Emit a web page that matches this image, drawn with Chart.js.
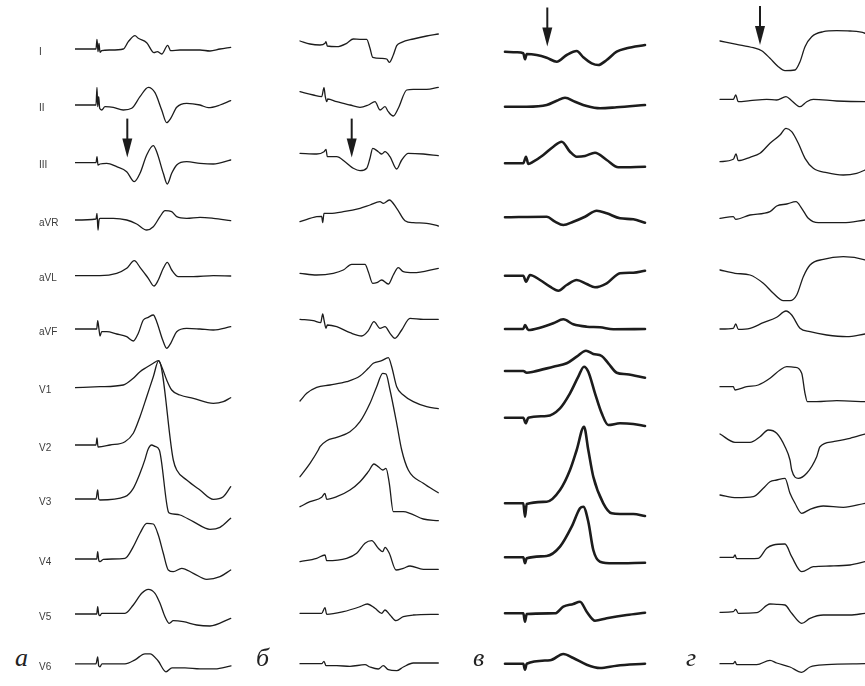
<!DOCTYPE html>
<html>
<head>
<meta charset="utf-8">
<script src="https://cdn.jsdelivr.net/npm/chart.js@4.4.1/dist/chart.umd.min.js"></script>
<style>
  body { margin: 0; background: #fff; }
  #page { position: relative; width: 865px; height: 686px; overflow: hidden; background: #fff; }
  canvas { position: absolute; top: 0; }
  .letter { position: absolute; font-family: "Liberation Serif", "DejaVu Serif", serif; font-style: italic; font-size: 26px; color: #222; line-height: 1; }
</style>
</head>
<body>
<div id="page">
  <canvas id="panelA" width="201" height="686" style="left:39px"></canvas>
  <canvas id="panelB" width="160" height="686" style="left:295px"></canvas>
  <canvas id="panelC" width="160" height="686" style="left:500px"></canvas>
  <canvas id="panelD" width="150" height="686" style="left:715px"></canvas>
  <span class="letter" style="left:15px;top:645px">а</span>
  <span class="letter" style="left:256px;top:645px">б</span>
  <span class="letter" style="left:473px;top:645px">в</span>
  <span class="letter" style="left:686px;top:645px">г</span>
</div>
<script>
// Отведения ЭКГ
const leads = ['I', 'II', 'III', 'aVR', 'aVL', 'aVF', 'V1', 'V2', 'V3', 'V4', 'V5', 'V6'];

// Кривые: пары [время, амплитуда] от изолинии каждого отведения
// панель а
const panelA = [
  [[0,0],[21,0],[22,9.7],[23,-2.7],[24,5.7],[25,-3.3],[26.7,-1.7],[35,-1],[48.3,0],[53.3,7.3],[60,13.3],[63.3,10.7],[71.7,6.3],[79,-3.7],[82.3,-2.7],[86.7,-5],[92.7,3.7],[95.7,-1.7],[105,-1],[125,-1],[135,-2],[145,0],[155.7,1.7]],
  [[0,-0.2],[21,-0.2],[22,17.5],[22.7,-1.9],[23.7,8.1],[24.7,-3.5],[26.7,-5.2],[30,-1.9],[38.3,-2.5],[48.3,-5.2],[56.7,-3.5],[65,8.1],[73.3,17.5],[80,12.1],[86.7,-5.2],[91.7,-17.9],[95.7,-13.5],[101.7,-2.5],[111.7,1.5],[125,-0.2],[133.3,-2.9],[145,-0.2],[155.7,4.1]],
  [[0,-2.1],[21,-2.1],[22,3.9],[23,-4.4],[25,-3.4],[31.7,-2.7],[41.7,-6.1],[51.7,-11.1],[59.3,-21.1],[65,-12.7],[71.7,5.6],[78.3,14.9],[81.7,8.9],[88.3,-12.7],[92.3,-23.4],[96.7,-12.7],[101.7,-4.4],[111.7,-1.1],[125,-2.7],[138.3,-3.4],[155.7,0.6]],
  [[0,-3.6],[21,-2.6],[22,3.1],[23,-13.6],[24,-3.6],[25,-1.9],[38.3,-1.9],[51.7,-3.6],[61.7,-7.6],[71.7,-13.6],[78.3,-10.3],[85,-0.3],[90,5.7],[96.7,4.7],[101.7,-0.3],[111.7,-1.9],[125,-0.9],[138.3,-1.9],[155.7,-4.3]],
  [[0,-3.5],[25,-3.5],[41.7,-1.1],[51.7,3.9],[59.3,11.5],[65,4.9],[73.3,-6.1],[79,-13.8],[83.3,-7.8],[88.3,3.9],[92.3,9.9],[96.7,2.2],[103.3,-4.5],[118.3,-4.5],[138.3,-3.5],[155.7,-3.8]],
  [[0,-1],[21.7,-1],[22.7,7.3],[24,-1.3],[25,-8],[26.7,-3.7],[31.7,-3.7],[41.7,-6],[51.7,-8.7],[58.3,-13],[63.3,-5.3],[68.3,8],[73.3,10.7],[78.3,13],[81.7,6.3],[87.7,-12],[91.7,-20.3],[95.7,-15.3],[101.7,-3.7],[111.7,-0.3],[125,-1],[138.3,-2],[155.7,1.3]],
  [[0,-3.9],[25,-2.9],[48.3,-1.2],[58.3,5.5],[65,12.1],[71.7,16.5],[78.3,20.5],[83.3,23.1],[86.7,17.1],[91.7,3.8],[96.7,-6.2],[105,-11.2],[118.3,-14.5],[138.3,-19.5],[148.3,-17.9],[155.7,-13.9]],
  [[0,-5.4],[21,-5.4],[22,1.6],[23,-7.4],[35,-5.4],[50,-2.1],[58.3,6.3],[65,22.9],[71.7,42.9],[78.3,62.9],[83.7,78.9],[98.3,-20.4],[101.7,-30.4],[111.7,-40.4],[125,-50.4],[138.3,-59.7],[148.3,-57.1],[155.7,-47.1]],
  [[0,-3.6],[21,-3.6],[22.7,5.4],[23.7,-3.6],[25,-4.6],[50,-1.3],[58.3,7.1],[65,22.1],[70,36],[73,46],[76.7,50.4],[80,49],[84.3,45.4],[93.3,-16.3],[95,-17.9],[105,-19.6],[118.3,-26.3],[135,-33.9],[145,-31.9],[155.7,-22.9]],
  [[0,-7.8],[21.7,-7.8],[22.7,-0.5],[23.7,-8.8],[25,-10.5],[28.3,-8.1],[50,-7.1],[58.3,4.5],[65,17.9],[71.7,27.9],[78.3,27.2],[83.3,16.2],[88.3,-2.1],[93.3,-18.8],[98.3,-20.5],[106.7,-17.1],[118.3,-22.1],[131.7,-28.1],[145,-25.5],[155.7,-18.8]],
  [[0,-7],[21.7,-7],[22.7,0.3],[23.7,-7.3],[25,-8.7],[26.7,-6.3],[50,-6.3],[58.3,2],[66.7,13.7],[73.3,17.7],[80,13.7],[85,3.7],[90,-9.7],[94.3,-16.3],[98.3,-13.7],[108.3,-14.7],[121.7,-18],[135,-19],[155.7,-11.3]],
  [[0,-1],[21,-1],[22.7,6],[23.7,-3],[25,-4],[27,-1],[50,-1],[60,3],[70,9],[75,9],[83,2],[91,-9],[97,-5],[110,-5],[125,-6],[140,-6],[156,-3]]
];

// панель б
const panelB = [
  [[0,8],[10,5],[20,4],[25,5.7],[26,7.3],[27.3,3],[36.7,2.3],[46.7,5.7],[53.3,10],[60,9.7],[66.7,9.7],[70,0.7],[72.7,-8.3],[81.7,-9.3],[86.7,-10],[89.3,-13.3],[93.3,-6],[96.7,3.3],[101.7,6.7],[113.3,10],[126.7,13],[138.3,15]],
  [[0,13.1],[13.3,9.8],[21.7,8.1],[24,17.1],[25.3,8.1],[26.7,3.1],[27.7,5.8],[36.7,3.1],[50,-0.2],[60,-2.5],[68.3,-0.2],[75,3.1],[80,-5.2],[85,-1.9],[88.3,-6.9],[93.3,-11.2],[98.3,-3.5],[106.7,14.8],[113.3,15.5],[126.7,15.5],[138.3,17.5]],
  [[0,7.3],[16.7,6.6],[24,8.9],[26,11.3],[27.3,3.9],[36.7,3.9],[45,-1.1],[53.3,-7.7],[60,-10.1],[66.7,-7.7],[70,2.3],[72.7,12.3],[78.3,8.9],[81.7,6.6],[85,8.9],[90,3.9],[96.7,-8.4],[101.7,0.6],[108.3,7.3],[123.3,6.6],[138.3,4.9]],
  [[0,-5.3],[16.7,-0.3],[21.7,0],[22.7,-6.3],[24,3.1],[30,3.1],[43.3,4.7],[60,8.1],[70,11.4],[80,14.7],[83.3,13.1],[89.3,16.4],[96.7,8.1],[105,-4.3],[113.3,-6.3],[126.7,-6.9],[138.3,-9.6]],
  [[0,-1.1],[16.7,-2.8],[33.3,-1.1],[43.3,2.2],[51.7,7.9],[65,7.9],[68.3,0.5],[72.7,-11.1],[76.7,-10.5],[81.7,-7.8],[88.3,-11.8],[93.3,-2.8],[98.3,4.5],[103.3,0.5],[113.3,-0.5],[138.3,3.9]],
  [[0,8.7],[13.3,7.3],[20.7,5.3],[22.7,14],[24,8],[26,-0.3],[27.3,3],[36.7,1.3],[50,-4.7],[61.7,-8],[68.3,-2.7],[74,6.3],[80,-0.3],[85,1.3],[90,-5.3],[95,-10.3],[101.7,-2],[110,9.7],[123.3,8.7],[138.3,8.7]],
  [[0,-17.2],[6.7,-9.5],[16.7,-3.5],[30,-1.2],[46.7,2.1],[60,7.8],[68.3,15.5],[73.3,20.5],[81.7,23.1],[88.3,26.1],[91.7,17.1],[96.7,-2.9],[103.3,-11.2],[113.3,-17.9],[126.7,-22.9],[138.3,-24.9]],
  [[0,-37.1],[10,-23.7],[18.3,-10.4],[20,-7.1],[26.7,-1.1],[36.7,2.3],[50,7.9],[60,17.9],[70,36.3],[76.7,52.9],[82.7,66.3],[86,65.6],[90,49.6],[96.7,16.3],[101.7,-10.4],[108.3,-30.4],[123.3,-43.7],[138.3,-53.1]],
  [[0,-11.3],[10,-6.3],[21.7,-1.9],[25,2.1],[26.7,-3.9],[36.7,-1.3],[50,5.4],[60,13.7],[68.3,23.7],[74,31.4],[78.3,28.7],[82.7,25.4],[86,27.1],[89.3,12.1],[93.3,-16.3],[103.3,-16.3],[110,-17.9],[123.3,-23.6],[138.3,-25.3]],
  [[0,-10.5],[16.7,-7.1],[25,-3.8],[26.7,-9.5],[46.7,-7.1],[56.7,-2.1],[65,7.9],[71.7,10.5],[78.3,2.9],[82.7,-0.5],[85,3.9],[89.3,-2.1],[96,-18.8],[103.3,-17.1],[110,-14.8],[123.3,-18.1],[138.3,-18.1]],
  [[0,-6.3],[21.7,-6.3],[25,-0.7],[26.7,-7.3],[43.3,-4.7],[60,0.3],[67.3,3],[75,-1.3],[81.7,-6.3],[85,-3],[90,-8],[96,-13.7],[103.3,-9.7],[113.3,-8],[138.3,-7.3]],
  [[0,-0.9],[21.7,-0.9],[24,1.5],[26,-2.9],[36.7,-2.9],[50,-3.5],[65,-1.9],[70,-4.2],[78.3,-6.2],[83.3,-2.9],[88.3,-6.9],[96.7,-7.9],[103.3,-4.2],[113.3,-0.2],[138.3,-0.2]]
];

// панель в
const panelC = [
  [[0,-2.7],[11.7,-3.3],[18.3,-4.3],[20,-10.3],[21.7,-5],[31.7,-6],[41.7,-8.7],[51.7,-12.7],[61.7,-6],[71.7,-2],[78.3,-8.3],[86.7,-14.3],[93.3,-16],[101.7,-11],[111.7,-2.7],[121.7,0.7],[140,4]],
  [[0,-1.9],[21.7,-1.9],[41.7,-0.2],[51.7,4.1],[60,7.1],[70,3.1],[81.7,-1.2],[95,-3.5],[111.7,-2.5],[140,-0.2]],
  [[0,-2.7],[18.3,-2.7],[21,3.9],[23.3,-3.4],[28.3,-1.1],[38.3,5.6],[48.3,13.9],[56.7,18.9],[65,8.9],[71.7,3.9],[80,4.6],[90,7.9],[101.7,0.6],[113.3,-6.7],[140,-6.1]],
  [[0,-0.9],[41.7,-0.3],[50,-5.3],[58.3,-8.6],[68.3,-5.3],[80,-0.3],[91.7,5.7],[101.7,3.1],[115,-1.9],[128.3,-2.9],[140,-6.3]],
  [[0,-3.5],[18.3,-3.5],[21,-9.5],[25,-2.8],[35,-7.8],[45,-14.5],[53.3,-18.5],[61.7,-12.8],[71.7,-7.8],[81.7,-11.8],[90,-15.1],[101.7,-11.1],[115,-1.1],[128.3,-0.5],[140,1.5]],
  [[0,-1],[18.3,-1],[20,3],[23.3,-2],[35,0.3],[48.3,4.7],[58.3,8.7],[68.3,3.7],[81.7,1.3],[95,0.7],[108.3,-1.3],[140,-1]],
  [[0,12.8],[18.3,12.8],[21.7,11.1],[28.3,12.1],[48.3,17.1],[61.7,20.5],[71.7,27.1],[81,33.1],[88.3,29.8],[96.7,27.8],[103.3,20.5],[111.7,11.1],[121.7,9.5],[140,6.1]],
  [[0,21.9],[18.3,21.9],[20.7,16.3],[23.3,21.9],[41.7,23.6],[55,31.3],[65,46.3],[73.3,62.9],[79,72.9],[83.3,67.9],[90,46.3],[96.7,26.3],[103.3,14.6],[115,16.3],[128.3,15.6],[140,13.6]],
  [[0,-7.9],[18.3,-7.9],[20,-21.3],[21.7,-8.6],[41.7,-6.3],[55,5.4],[65,25.4],[71.7,45.4],[79,68.7],[83.3,45.4],[88.3,18.7],[98.3,-7.9],[106.7,-17.9],[115,-18.6],[128.3,-18.6],[140,-20.6]],
  [[0,-6.1],[18.3,-6.1],[20,-12.1],[21.7,-7.1],[41.7,-4.8],[55,4.5],[66.7,24.5],[75,42.9],[78.3,44.5],[83.3,29.5],[88.3,1.2],[95,-10.5],[108.3,-12.1],[140,-11.5]],
  [[0,-6.3],[18.3,-6.3],[20,-14.7],[21.7,-7],[50,-6.3],[58.3,0.3],[68.3,3],[75,5.3],[81.7,-4.7],[90,-13.7],[101.7,-11.3],[121.7,-8],[140,-5.7]],
  [[0,-0.9],[18.3,-0.9],[20,-6.9],[21.7,-0.9],[45,2.5],[58.3,8.8],[68.3,4.8],[81.7,-1.9],[95,-5.2],[111.7,-2.9],[140,-0.9]]
];

// панель г
const panelD = [
  [[0,8],[16.7,4.7],[33.3,1.3],[41.7,-1.7],[50,-9.3],[58.3,-17.7],[65,-21.7],[75,-21],[80,-12.7],[85,2.3],[91.7,12.3],[103.3,17.3],[116.7,18.3],[130,18],[145,15.7],[155,9]],
  [[0,5.5],[13.3,5.5],[15.7,9.8],[18.3,3.1],[30,4.1],[46.7,5.5],[56.7,4.8],[66,8.1],[71.7,4.1],[80,-1.9],[86.7,3.1],[93.3,5.5],[116.7,3.8],[145,3.1],[160,3.1]],
  [[0,-1.1],[13.3,1.3],[16,6.6],[18.3,-0.1],[30,3.3],[40,7.3],[50,17.3],[60,25.6],[66,32.3],[71.7,28.9],[78.3,17.3],[85,2.3],[93.3,-7.7],[106.7,-12.1],[123.3,-14.4],[136.7,-12.7],[145,-9.4],[155,-5]],
  [[0,-1.9],[13.3,-0.3],[15.7,-2.9],[30,1.4],[50,4.7],[56.7,10.4],[66.7,12.4],[76,14.7],[81.7,8.1],[88.3,-1.9],[98.3,-6.3],[123.3,-6.3],[145,-3.6]],
  [[0,2.2],[15,-1.1],[30,-2.8],[43.3,-11.1],[53.3,-21.1],[63.3,-28.5],[70,-28.5],[76.7,-22.8],[83.3,-4.5],[90,7.2],[103.3,12.9],[123.3,15.5],[145,12.2],[160,5]],
  [[0,-1],[13.3,-0.3],[15.7,4],[18.3,-1.3],[30,-0.3],[43.3,5.3],[56.7,10.7],[66,17],[71.7,13],[80,-0.3],[90,-3.7],[106.7,-7],[126.7,-8.7],[145,-6]],
  [[0,-2.9],[13.3,-2.9],[15,-6.2],[26.7,-2.9],[38.3,-1.2],[50,5.5],[60,13.8],[66.7,17.1],[75,16.5],[81.7,10.5],[85,-9.5],[87.3,-17.9],[96.7,-17.9],[116.7,-16.9],[145,-17.9]],
  [[0,5.6],[15,-2.7],[30,-2.7],[40,2.9],[48.3,9.6],[56.7,6.3],[65,-7.1],[70,-20.4],[71.7,-30.4],[78.3,-38.7],[86.7,-33.7],[96.7,-17.1],[100,-7.1],[113.3,-2.1],[130,1.3],[145,5.6]],
  [[0,0.4],[16.7,-2.3],[33.3,-1.3],[43.3,7.1],[50,13.7],[56.7,15.4],[65,17.1],[70,2.1],[75,-7.9],[81.7,-17.9],[90,-13.9],[103.3,-10.6],[123.3,-11.9],[145,-7.9]],
  [[0,-6.1],[13.3,-6.1],[15,-3.8],[16.7,-7.5],[38.3,-7.1],[46.7,2.9],[53.3,6.2],[65,7.2],[71.7,-5.5],[81.7,-20.5],[93.3,-15.5],[110,-14.8],[130,-13.8],[145,-10.5]],
  [[0,-5.3],[13.3,-4.7],[15.7,-2.3],[18.3,-6.3],[36.7,-5.7],[50,3],[56.7,2.7],[65,2],[71.7,-6.3],[81.7,-16.3],[90,-11.3],[103.3,-8],[130,-8],[145,-6.3]],
  [[0,-0.9],[13.3,-0.9],[15,1.5],[16.7,-1.9],[36.7,-1.9],[50,2.5],[56.7,-0.2],[70,-4.2],[81.7,-9.5],[90,-4.2],[106.7,-1.9],[145,-0.9]]
];

// Стрелки: отведение, время, уровень острия (по одной на панель)
const arrowLead = [2, 2, 0, 0];
const arrowTime = [52.3, 51.7, 42.3, 40];
const arrowLevel = [3, 3, 2.5, 4];

// Раскладка
const ROW_GAP = 55.8;     // расстояние между изолиниями
const Y_MAX = 49;         // изолиния I от верхнего края
const Y_MIN = Y_MAX - 686;
const LABEL_DROP = 3;
const AXIS_W = 36;
const INK = '#1c1c1c';

// Рисование стрелок
const arrowPlugin = {
  id: 'arrows',
  afterDatasetsDraw(chart, args, opts) {
    const i = opts.index;
    if (i === undefined) return;
    const { ctx, scales: { x, y } } = chart;
    const px = x.getPixelForValue(arrowTime[i]);
    const tip = y.getPixelForValue(arrowLevel[i] - arrowLead[i] * ROW_GAP);
    const len = 39, head = 19, half = 5;
    ctx.save();
    ctx.strokeStyle = INK;
    ctx.fillStyle = INK;
    ctx.lineWidth = 2;
    ctx.beginPath();
    ctx.moveTo(px, tip - len);
    ctx.lineTo(px, tip - head + 2);
    ctx.stroke();
    ctx.beginPath();
    ctx.moveTo(px - half, tip - head);
    ctx.lineTo(px + half, tip - head);
    ctx.lineTo(px, tip);
    ctx.closePath();
    ctx.fill();
    ctx.restore();
  }
};

// Создание панели
function makePanel(id, traces, opts) {
  const datasets = traces.map((trace, row) => ({
    data: trace.map(([t, v]) => ({ x: t, y: v - row * ROW_GAP })),
    showLine: true,
    borderColor: INK,
    borderWidth: opts.width,
    pointRadius: 0,
    cubicInterpolationMode: 'monotone',
    borderJoinStyle: 'round',
    borderCapStyle: 'round'
  }));

  const yScale = {
    type: 'linear',
    min: Y_MIN,
    max: Y_MAX,
    display: !!opts.labels,
    grid: { display: false, drawTicks: false },
    border: { display: false }
  };
  if (opts.labels) {
    // подпись отведения чуть ниже начала кривой
    yScale.afterBuildTicks = s => {
      s.ticks = traces.map((trace, i) => ({ value: trace[0][1] - i * ROW_GAP - LABEL_DROP }));
    };
    yScale.afterFit = s => {
      s.width = AXIS_W;
      s.paddingTop = 0;
      s.paddingBottom = 0;
    };
    yScale.ticks = {
      autoSkip: false,
      crossAlign: 'far',
      color: '#3a3a3a',
      font: { family: '"Liberation Sans", Arial, sans-serif', size: 10 },
      callback: (value, index) => leads[index]
    };
  }

  new Chart(document.getElementById(id), {
    type: 'scatter',
    data: { datasets },
    plugins: [arrowPlugin],
    options: {
      responsive: false,
      animation: false,
      events: [],
      layout: { padding: 0 },
      plugins: {
        legend: { display: false },
        tooltip: { enabled: false },
        arrows: { index: opts.arrow }
      },
      scales: {
        x: { type: 'linear', display: false, min: opts.xMin, max: opts.xMax },
        y: yScale
      }
    }
  });
}

makePanel('panelA', panelA, { width: 1.3, xMin: 0, xMax: 165, labels: true, arrow: 0 });
makePanel('panelB', panelB, { width: 1.3, xMin: -5, xMax: 155, arrow: 1 });
makePanel('panelC', panelC, { width: 2.6, xMin: -5, xMax: 155, arrow: 2 });
makePanel('panelD', panelD, { width: 1.3, xMin: -5, xMax: 145, arrow: 3 });
</script>
</body>
</html>
